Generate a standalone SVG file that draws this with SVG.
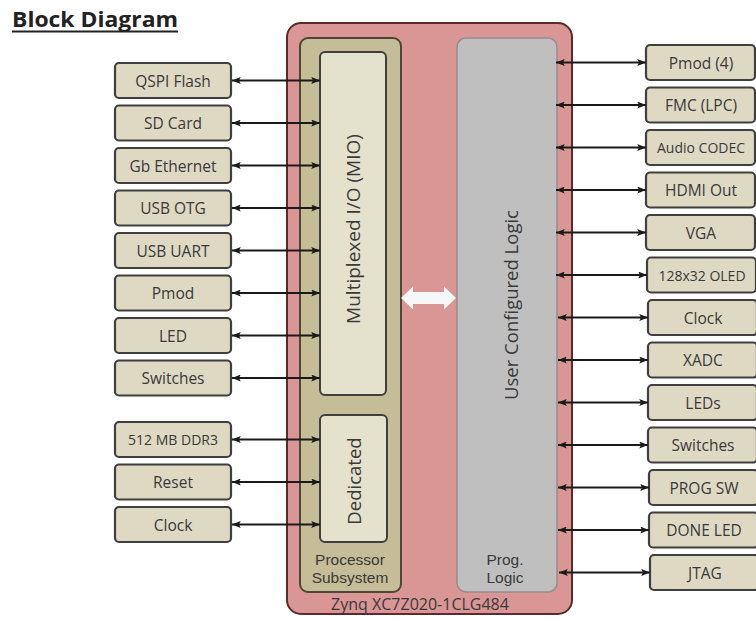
<svg xmlns="http://www.w3.org/2000/svg" width="756" height="619" viewBox="0 0 756 619">
<style>
.bx{fill:#ddd9c3;stroke:#3f3f3f;stroke-width:2.2}
.t{font-family:"Open Sans","Liberation Sans",sans-serif;font-size:15.5px;fill:#3a3a3a;text-anchor:middle;dominant-baseline:central}
.ts{font-size:14px}
.lbl{font-family:"Open Sans","Liberation Sans",sans-serif;fill:#3a3a3a;text-anchor:middle}
.two{font-family:"Liberation Sans",Arial,sans-serif;font-size:15.5px;fill:#3a3a3a;text-anchor:middle}
.cn line{stroke:#1a1a1a;stroke-width:2;marker-start:url(#ah);marker-end:url(#ah)}
</style>
<defs>
<marker id="ah" viewBox="0 0 10 8" refX="10" refY="4" markerWidth="9" markerHeight="7" markerUnits="userSpaceOnUse" orient="auto-start-reverse">
<path d="M0,0 L10,4 L0,8 L2,4 z" fill="#1a1a1a"/>
</marker>
</defs>
<rect width="756" height="619" fill="#ffffff"/>
<g id="title">
<text x="12" y="27" font-family="'Open Sans','Liberation Sans',sans-serif" font-size="22" font-weight="bold" fill="#222" textLength="166" lengthAdjust="spacingAndGlyphs">Block Diagram</text>
<line x1="12" y1="31.5" x2="178" y2="31.5" stroke="#222" stroke-width="1.8"/>
</g>
<g id="zynq">
<rect x="287" y="23" width="285" height="591" rx="14" fill="#d99694" stroke="#5b2b2b" stroke-width="2"/>
<text class="lbl" x="420" y="610" font-size="16">Zynq XC7Z020-1CLG484</text>
</g>
<g id="ps">
<rect x="300" y="38" width="101" height="554" rx="8" fill="#c4bd97" stroke="#4d4835" stroke-width="2"/>
<text class="two" x="350" y="565">Processor</text>
<text class="two" x="350" y="583">Subsystem</text>
</g>
<g id="mio">
<rect x="320" y="52" width="66" height="343" rx="5" fill="#e4e1cc" stroke="#3f3f3f" stroke-width="2"/>
<text class="t" transform="translate(353,229) rotate(-90)" style="font-size:19px">Multiplexed I/O  (MIO)</text>
</g>
<g id="dedicated">
<rect x="320" y="415" width="67" height="127" rx="5" fill="#e4e1cc" stroke="#3f3f3f" stroke-width="2"/>
<text class="t" transform="translate(353,481) rotate(-90)" style="font-size:18.5px">Dedicated</text>
</g>
<g id="pl">
<rect x="457" y="38" width="100" height="554" rx="9" fill="#bfbfbf" stroke="#9a8c8c" stroke-width="1.5"/>
<text class="t" transform="translate(510,305) rotate(-90)" style="font-size:18.5px">User Configured Logic</text>
<text class="two" x="505" y="565">Prog.</text>
<text class="two" x="505" y="583">Logic</text>
</g>
<g id="ps-pl-link">
<polygon points="401,298 413,286.5 413,292 444,292 444,286.5 456,298 444,309.5 444,304 413,304 413,309.5" fill="#f7f7f7"/>
</g>
<g id="n-qspi"><rect class="bx" x="115" y="63" width="116" height="35" rx="4"/><text class="t" x="173" y="80.5">QSPI Flash</text></g>
<g id="n-sd"><rect class="bx" x="115" y="105.5" width="116" height="35" rx="4"/><text class="t" x="173" y="123">SD Card</text></g>
<g id="n-eth"><rect class="bx" x="115" y="148" width="116" height="35" rx="4"/><text class="t" x="173" y="165.5">Gb Ethernet</text></g>
<g id="n-usbotg"><rect class="bx" x="115" y="190.5" width="116" height="35" rx="4"/><text class="t" x="173" y="208">USB OTG</text></g>
<g id="n-usbuart"><rect class="bx" x="115" y="233" width="116" height="35" rx="4"/><text class="t" x="173" y="250.5">USB UART</text></g>
<g id="n-pmod"><rect class="bx" x="115" y="275.5" width="116" height="35" rx="4"/><text class="t" x="173" y="293">Pmod</text></g>
<g id="n-led"><rect class="bx" x="115" y="318" width="116" height="35" rx="4"/><text class="t" x="173" y="335.5">LED</text></g>
<g id="n-sw"><rect class="bx" x="115" y="360.5" width="116" height="35" rx="4"/><text class="t" x="173" y="378">Switches</text></g>
<g id="n-ddr"><rect class="bx" x="115" y="422" width="116" height="35" rx="4"/><text class="t ts" x="173" y="439.5">512 MB DDR3</text></g>
<g id="n-reset"><rect class="bx" x="115" y="464.5" width="116" height="35" rx="4"/><text class="t" x="173" y="482">Reset</text></g>
<g id="n-clk"><rect class="bx" x="115" y="507" width="116" height="35" rx="4"/><text class="t" x="173" y="524.5">Clock</text></g>
<g id="r-pmod4"><rect class="bx" x="646" y="45" width="109" height="35" rx="4"/><text class="t" x="701" y="62.5">Pmod (4)</text></g>
<g id="r-fmc"><rect class="bx" x="646" y="87.5" width="109" height="35" rx="4"/><text class="t" x="701" y="105">FMC (LPC)</text></g>
<g id="r-audio"><rect class="bx" x="646" y="130" width="109" height="35" rx="4"/><text class="t ts" x="701" y="147.5">Audio CODEC</text></g>
<g id="r-hdmi"><rect class="bx" x="646" y="172.5" width="109" height="35" rx="4"/><text class="t" x="701" y="190">HDMI Out</text></g>
<g id="r-vga"><rect class="bx" x="646" y="215" width="109" height="35" rx="4"/><text class="t" x="701" y="232.5">VGA</text></g>
<g id="r-oled"><rect class="bx" x="647" y="257.5" width="109" height="35" rx="4"/><text class="t ts" x="702" y="275">128x32 OLED</text></g>
<g id="r-clock"><rect class="bx" x="648" y="300" width="109" height="35" rx="4"/><text class="t" x="703" y="317.5">Clock</text></g>
<g id="r-xadc"><rect class="bx" x="648" y="342.5" width="109" height="35" rx="4"/><text class="t" x="703" y="360">XADC</text></g>
<g id="r-leds"><rect class="bx" x="648" y="385" width="109" height="35" rx="4"/><text class="t" x="703" y="402.5">LEDs</text></g>
<g id="r-switches"><rect class="bx" x="648" y="427.5" width="109" height="35" rx="4"/><text class="t" x="703" y="445">Switches</text></g>
<g id="r-progsw"><rect class="bx" x="649" y="470" width="109" height="35" rx="4"/><text class="t" x="704" y="487.5">PROG SW</text></g>
<g id="r-doneled"><rect class="bx" x="649" y="512.5" width="109" height="35" rx="4"/><text class="t" x="704" y="530">DONE LED</text></g>
<g id="r-jtag"><rect class="bx" x="650" y="555" width="109" height="35" rx="4"/><text class="t" x="705" y="572.5">JTAG</text></g>
<g id="connectors" class="cn">
<line x1="232" y1="80.5" x2="320" y2="80.5"/>
<line x1="232" y1="123" x2="320" y2="123"/>
<line x1="232" y1="165.5" x2="320" y2="165.5"/>
<line x1="232" y1="208" x2="320" y2="208"/>
<line x1="232" y1="250.5" x2="320" y2="250.5"/>
<line x1="232" y1="293" x2="320" y2="293"/>
<line x1="232" y1="335.5" x2="320" y2="335.5"/>
<line x1="232" y1="378" x2="320" y2="378"/>
<line x1="232" y1="439.5" x2="320" y2="439.5"/>
<line x1="232" y1="482" x2="320" y2="482"/>
<line x1="232" y1="524.5" x2="320" y2="524.5"/>
<line x1="556" y1="62.5" x2="646" y2="62.5"/>
<line x1="556" y1="105" x2="646" y2="105"/>
<line x1="556" y1="147.5" x2="646" y2="147.5"/>
<line x1="556" y1="190" x2="646" y2="190"/>
<line x1="556" y1="232.5" x2="646" y2="232.5"/>
<line x1="556" y1="275" x2="647" y2="275"/>
<line x1="558" y1="317.5" x2="648" y2="317.5"/>
<line x1="558" y1="360" x2="648" y2="360"/>
<line x1="558" y1="402.5" x2="648" y2="402.5"/>
<line x1="558" y1="445" x2="648" y2="445"/>
<line x1="558" y1="487.5" x2="649" y2="487.5"/>
<line x1="558" y1="530" x2="649" y2="530"/>
<line x1="559" y1="572.5" x2="650" y2="572.5"/>
</g>
</svg>
